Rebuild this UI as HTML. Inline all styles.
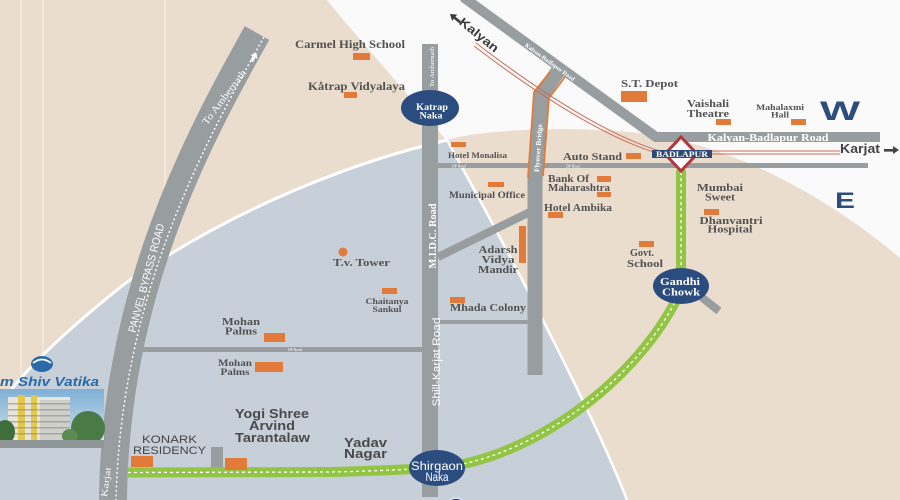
<!DOCTYPE html>
<html><head><meta charset="utf-8"><style>
html,body{margin:0;padding:0;width:900px;height:500px;overflow:hidden;background:#fafafa}
svg{display:block}
.s{font-family:"Liberation Serif",serif;font-weight:bold;fill:#525252}
.a{font-family:"Liberation Sans",sans-serif;font-weight:bold;fill:#4a4a4a}
.ws{font-family:"Liberation Serif",serif;font-weight:bold;fill:#fff}
.wa{font-family:"Liberation Sans",sans-serif;fill:#fff}
</style></head><body>
<svg width="900" height="500" viewBox="0 0 900 500" xmlns="http://www.w3.org/2000/svg">
<defs>
<linearGradient id="sky" x1="0" y1="0" x2="0" y2="1"><stop offset="0" stop-color="#7fb0d6"/><stop offset="1" stop-color="#dbe7ee"/></linearGradient>
</defs>
<rect width="900" height="500" fill="#fafafa"/>
<!-- west beige -->
<path d="M0,0 L327,0 C355,35 405,90 450,145 L450,170 L0,430 Z" fill="#eaddce"/>
<g stroke="#f3ebe1" stroke-width="1.5"><line x1="21" y1="0" x2="21" y2="400"/><line x1="43" y1="0" x2="43" y2="360"/><line x1="165" y1="0" x2="165" y2="258"/></g>
<!-- blue-gray region -->
<path d="M0,405 C20,375 60,335 127,282 C210,225 320,170 447,140 L600,140 L650,500 L0,500 Z" fill="#c7d0d9"/>
<path d="M0,405 C20,375 60,335 127,282 C210,225 320,170 447,140" fill="none" stroke="#fff" stroke-width="3"/>
<!-- east beige -->
<path d="M447,140 C480,130 560,126 630,132 C720,140 820,190 900,258 L900,500 L627,500 C600,430 530,290 447,140 Z" fill="#eaddce"/>
<path d="M627,500 C600,430 530,290 447,140" fill="none" stroke="#fff" stroke-width="2.5"/>

<!-- grey roads -->
<g fill="#989da0">
<rect x="422" y="44" width="16" height="453"/>
<rect x="438" y="163" width="430" height="5"/>
<rect x="438" y="320" width="92" height="4"/>
<rect x="142" y="347" width="288" height="5"/>
<rect x="211" y="447" width="12" height="23"/>
</g>
<g stroke="#989da0" fill="none">
<line x1="438" y1="257" x2="532" y2="211" stroke-width="8"/>
<line x1="695" y1="292" x2="719" y2="311" stroke-width="8"/>
<polyline points="562,66 541,95 535,180 535,375" stroke-width="15"/>
</g>
<g stroke="#e27a3a" fill="none" stroke-width="1.8">
<polyline points="550,72 534,92 528,178"/>
<polyline points="565,77 549,98 543,176"/>
</g>
<polyline points="463,-3 656,137 880,137" fill="none" stroke="#989da0" stroke-width="10"/>
<!-- panvel bypass -->
<path d="M257,33 C200,135 115,290 113,500" fill="none" stroke="#989da0" stroke-width="28"/>
<path d="M264,37 C207,139 121,292 116,500" fill="none" stroke="#fff" stroke-width="1.4" stroke-dasharray="2 2.5"/>
<g transform="translate(254,57) rotate(-62)" fill="#fff"><polygon points="5,0 0,-4 0,4"/><rect x="-5" y="-1.5" width="5" height="3"/></g>

<!-- railway -->
<g fill="none" stroke="#cc6b55" stroke-width="1">
<path d="M476,43 Q590,130 660,151 L840,151"/>
<path d="M474,46 Q588,133 660,154 L840,154"/>
</g>

<!-- green road -->
<path d="M128,472.5 L330,472 C380,471 410,469 437,468 C530,460 640,380 681,290 L681,170" fill="none" stroke="#93c544" stroke-width="10"/>
<path d="M128,472.5 L330,472 C380,471 410,469 437,468 C530,460 640,380 681,290 L681,170" fill="none" stroke="#fff" stroke-width="1.3" stroke-dasharray="3 3"/>

<!-- markers -->
<g fill="#e27a3a">
<rect x="353" y="53" width="17" height="7"/>
<rect x="344" y="92" width="13" height="6"/>
<rect x="451" y="142" width="15" height="5"/>
<rect x="488" y="182" width="16" height="5"/>
<rect x="597" y="176" width="14" height="6"/>
<rect x="597" y="192" width="14" height="5"/>
<rect x="548" y="212" width="15" height="6"/>
<rect x="626" y="153" width="15" height="6"/>
<rect x="621" y="91" width="26" height="11"/>
<rect x="716" y="119" width="15" height="6"/>
<rect x="791" y="119" width="15" height="6"/>
<rect x="704" y="209" width="15" height="6"/>
<rect x="639" y="241" width="15" height="6"/>
<rect x="519" y="226" width="7" height="37"/>
<rect x="450" y="297" width="15" height="6"/>
<rect x="382" y="288" width="15" height="6"/>
<circle cx="343" cy="252" r="4.5"/>
<rect x="264" y="333" width="21" height="9"/>
<rect x="255" y="362" width="28" height="10"/>
<rect x="131" y="456" width="22" height="11"/>
<rect x="225" y="458" width="22" height="12"/>
</g>

<!-- diamond station -->
<polygon points="681,137 697,154 681,171 665,154" fill="#fff" stroke="#b5363a" stroke-width="3"/>
<rect x="652" y="150" width="60" height="8" fill="#2e4a78"/>
<text class="ws" x="682" y="157" font-size="8" text-anchor="middle" textLength="52" lengthAdjust="spacingAndGlyphs">BADLAPUR</text>

<!-- circles -->
<g fill="#2b4c7e">
<ellipse cx="430" cy="108" rx="29" ry="18"/>
<ellipse cx="437" cy="468" rx="28" ry="18"/>
<ellipse cx="681" cy="286" rx="28" ry="18"/>
<ellipse cx="456" cy="508" rx="10" ry="10" stroke="#dfe6ee" stroke-width="1.5"/>
</g>
<text class="ws" x="432" y="110" font-size="9.5" text-anchor="middle" textLength="32" lengthAdjust="spacingAndGlyphs">Katrap</text>
<text class="ws" x="431" y="118.5" font-size="9.5" text-anchor="middle" textLength="23" lengthAdjust="spacingAndGlyphs">Naka</text>
<text class="wa" x="437" y="470" font-size="11.5" text-anchor="middle" textLength="52" lengthAdjust="spacingAndGlyphs">Shirgaon</text>
<text class="wa" x="437" y="481" font-size="11.5" text-anchor="middle" textLength="23" lengthAdjust="spacingAndGlyphs">Naka</text>
<text class="ws" x="680" y="285" font-size="11" text-anchor="middle" textLength="40" lengthAdjust="spacingAndGlyphs">Gandhi</text>
<text class="ws" x="681" y="295.5" font-size="11" text-anchor="middle" textLength="38" lengthAdjust="spacingAndGlyphs">Chowk</text>

<!-- road labels -->
<text class="wa" transform="translate(146,278) rotate(-75)" font-size="11" text-anchor="middle" dy="4" textLength="112" lengthAdjust="spacingAndGlyphs">PANVEL BYPASS ROAD</text>
<text class="ws" style="font-weight:normal" transform="translate(224,97) rotate(-53)" font-size="10" text-anchor="middle" dy="3.5" textLength="66" lengthAdjust="spacingAndGlyphs">To Ambernath</text>
<text class="ws" style="font-weight:normal" transform="translate(106,482) rotate(-82)" font-size="9" text-anchor="middle" dy="3" textLength="30" lengthAdjust="spacingAndGlyphs">Karjat</text>
<text class="ws" style="font-weight:normal" transform="translate(432,67) rotate(-90)" font-size="6" text-anchor="middle" dy="2" textLength="40" lengthAdjust="spacingAndGlyphs">To Ambernath</text>
<text class="ws" transform="translate(432,236) rotate(-90)" font-size="11" text-anchor="middle" dy="4" textLength="65" lengthAdjust="spacingAndGlyphs">M.I.D.C. Road</text>
<text class="wa" transform="translate(436,362) rotate(-90)" font-size="11" text-anchor="middle" dy="4" textLength="89" lengthAdjust="spacingAndGlyphs">Shill-Karjat Road</text>
<text class="ws" transform="translate(538,148) rotate(-86)" font-size="7" text-anchor="middle" dy="2.5" textLength="48" lengthAdjust="spacingAndGlyphs">Flyover Bridge</text>
<text class="ws" transform="translate(550,62) rotate(36)" font-size="6" text-anchor="middle" dy="2" textLength="60" lengthAdjust="spacingAndGlyphs">Kalyan-Badlapur Road</text>
<text class="ws" x="768" y="141" font-size="10.5" text-anchor="middle" textLength="121" lengthAdjust="spacingAndGlyphs">Kalyan-Badlapur Road</text>
<g class="ws" font-size="4.5" style="font-weight:normal">
<text x="452" y="167.5" textLength="14" lengthAdjust="spacingAndGlyphs">DP Road</text>
<text x="566" y="167.5" textLength="14" lengthAdjust="spacingAndGlyphs">DP Road</text>
<text x="288" y="351" textLength="14" lengthAdjust="spacingAndGlyphs">DP Road</text>
</g>

<!-- Kalyan / Karjat -->
<text class="a" transform="translate(479,35) rotate(39)" font-size="12" text-anchor="middle" dy="4" textLength="47" lengthAdjust="spacingAndGlyphs" style="fill:#3a3a3a">Kalyan</text>
<g transform="translate(450,14) rotate(219)" fill="#3a3a3a"><polygon points="0,0 -6,-4 -6,4"/><rect x="-13" y="-1.3" width="7" height="2.6"/></g>
<text class="a" x="840" y="153" font-size="13" textLength="40" lengthAdjust="spacingAndGlyphs" style="fill:#444">Karjat</text>
<polygon points="899,150 893,146 893,154" fill="#444"/><rect x="884" y="149" width="9" height="2.6" fill="#444"/>
<text x="820" y="120" font-family="Liberation Sans, sans-serif" font-weight="bold" font-size="27" fill="#2d4e7c" textLength="40" lengthAdjust="spacingAndGlyphs">W</text>
<text x="835" y="208" font-family="Liberation Sans, sans-serif" font-weight="bold" font-size="22" fill="#2d4e7c" textLength="20" lengthAdjust="spacingAndGlyphs">E</text>

<!-- serif labels -->
<text class="s" x="295" y="48" font-size="12" textLength="110" lengthAdjust="spacingAndGlyphs">Carmel High School</text>
<text class="s" x="308" y="90" font-size="12" textLength="97" lengthAdjust="spacingAndGlyphs">Kåtrap Vidyalaya</text>
<text class="s" x="448" y="158" font-size="8.5" textLength="59" lengthAdjust="spacingAndGlyphs">Hotel Monalisa</text>
<text class="s" x="449" y="198" font-size="9.5" textLength="76" lengthAdjust="spacingAndGlyphs">Municipal Office</text>
<text class="s" x="548" y="182" font-size="10" textLength="41" lengthAdjust="spacingAndGlyphs">Bank Of</text>
<text class="s" x="548" y="191" font-size="10" textLength="62" lengthAdjust="spacingAndGlyphs">Maharashtra</text>
<text class="s" x="544" y="211" font-size="10.5" textLength="68" lengthAdjust="spacingAndGlyphs">Hotel Ambika</text>
<text class="s" x="563" y="160" font-size="11" textLength="59" lengthAdjust="spacingAndGlyphs">Auto Stand</text>
<text class="s" x="621" y="87" font-size="11" textLength="57" lengthAdjust="spacingAndGlyphs">S.T. Depot</text>
<text class="s" x="708" y="107" font-size="10.5" text-anchor="middle" textLength="42" lengthAdjust="spacingAndGlyphs">Vaishali</text>
<text class="s" x="708" y="117" font-size="10.5" text-anchor="middle" textLength="42" lengthAdjust="spacingAndGlyphs">Theatre</text>
<text class="s" x="780" y="110" font-size="8.5" text-anchor="middle" textLength="48" lengthAdjust="spacingAndGlyphs">Mahalaxmi</text>
<text class="s" x="780" y="117.5" font-size="8.5" text-anchor="middle" textLength="18" lengthAdjust="spacingAndGlyphs">Hall</text>
<text class="s" x="720" y="191" font-size="11" text-anchor="middle" textLength="46" lengthAdjust="spacingAndGlyphs">Mumbai</text>
<text class="s" x="720" y="200.5" font-size="11" text-anchor="middle" textLength="30" lengthAdjust="spacingAndGlyphs">Sweet</text>
<text class="s" x="731" y="224" font-size="11" text-anchor="middle" textLength="63" lengthAdjust="spacingAndGlyphs">Dhanvantri</text>
<text class="s" x="730" y="232.5" font-size="11" text-anchor="middle" textLength="45" lengthAdjust="spacingAndGlyphs">Hospital</text>
<text class="s" x="642" y="256" font-size="10.5" text-anchor="middle" textLength="24" lengthAdjust="spacingAndGlyphs">Govt.</text>
<text class="s" x="645" y="267" font-size="10.5" text-anchor="middle" textLength="36" lengthAdjust="spacingAndGlyphs">School</text>
<text class="s" x="498" y="253" font-size="11" text-anchor="middle" textLength="39" lengthAdjust="spacingAndGlyphs">Adarsh</text>
<text class="s" x="498" y="263" font-size="11" text-anchor="middle" textLength="33" lengthAdjust="spacingAndGlyphs">Vidya</text>
<text class="s" x="498" y="273" font-size="11" text-anchor="middle" textLength="40" lengthAdjust="spacingAndGlyphs">Mandir</text>
<text class="s" x="333" y="266" font-size="10.5" textLength="57" lengthAdjust="spacingAndGlyphs">T.v. Tower</text>
<text class="s" x="387" y="304" font-size="8.5" text-anchor="middle" textLength="43" lengthAdjust="spacingAndGlyphs">Chaitanya</text>
<text class="s" x="387" y="312" font-size="8.5" text-anchor="middle" textLength="29" lengthAdjust="spacingAndGlyphs">Sankul</text>
<text class="s" x="450" y="311" font-size="11" textLength="76" lengthAdjust="spacingAndGlyphs">Mhada Colony</text>
<text class="s" x="241" y="325" font-size="11" text-anchor="middle" textLength="38" lengthAdjust="spacingAndGlyphs">Mohan</text>
<text class="s" x="241" y="334.5" font-size="11" text-anchor="middle" textLength="32" lengthAdjust="spacingAndGlyphs">Palms</text>
<text class="s" x="235" y="366" font-size="9.5" text-anchor="middle" textLength="34" lengthAdjust="spacingAndGlyphs">Mohan</text>
<text class="s" x="235" y="375" font-size="9.5" text-anchor="middle" textLength="29" lengthAdjust="spacingAndGlyphs">Palms</text>

<!-- sans labels -->
<text class="a" x="272" y="418" font-size="12.5" text-anchor="middle" textLength="74" lengthAdjust="spacingAndGlyphs">Yogi Shree</text>
<text class="a" x="272" y="430" font-size="12.5" text-anchor="middle" textLength="46" lengthAdjust="spacingAndGlyphs">Arvind</text>
<text class="a" x="272.5" y="442" font-size="12.5" text-anchor="middle" textLength="75" lengthAdjust="spacingAndGlyphs">Tarantalaw</text>
<text x="169.5" y="443" font-family="Liberation Sans, sans-serif" font-size="11" fill="#444" text-anchor="middle" textLength="55" lengthAdjust="spacingAndGlyphs">KONARK</text>
<text x="169.5" y="454" font-family="Liberation Sans, sans-serif" font-size="11" fill="#444" text-anchor="middle" textLength="73" lengthAdjust="spacingAndGlyphs">RESIDENCY</text>
<text class="a" x="344" y="447" font-size="12.5" textLength="43" lengthAdjust="spacingAndGlyphs">Yadav</text>
<text class="a" x="344" y="458" font-size="12.5" textLength="43" lengthAdjust="spacingAndGlyphs">Nagar</text>

<!-- project logo & photo -->
<ellipse cx="42" cy="364" rx="11" ry="8" fill="#2a6aa8"/>
<path d="M33,363 Q42,356 51,363" fill="none" stroke="#fff" stroke-width="1.6"/>
<text x="0" y="386" font-family="Liberation Sans, sans-serif" font-weight="bold" font-style="italic" font-size="13" fill="#2a6aa8" textLength="99" lengthAdjust="spacingAndGlyphs">m Shiv Vatika</text>
<rect x="0" y="389" width="104" height="59" fill="url(#sky)"/>
<rect x="8" y="397" width="62" height="43" fill="#e8e6dc"/>
<rect x="40" y="400" width="30" height="40" fill="#cfd0ca"/>
<rect x="18" y="395" width="7" height="45" fill="#e3c94a"/>
<rect x="31" y="395" width="6" height="45" fill="#e3c94a"/>
<g fill="#8a8a88" opacity="0.6">
<rect x="8" y="403" width="62" height="1.5"/><rect x="8" y="409" width="62" height="1.5"/><rect x="8" y="415" width="62" height="1.5"/><rect x="8" y="421" width="62" height="1.5"/><rect x="8" y="427" width="62" height="1.5"/><rect x="8" y="433" width="62" height="1.5"/>
</g>
<ellipse cx="5" cy="432" rx="10" ry="12" fill="#3f6e3a"/>
<ellipse cx="88" cy="428" rx="17" ry="17" fill="#4a7a45"/>
<ellipse cx="70" cy="436" rx="8" ry="7" fill="#5b8a50"/>
<rect x="0" y="440" width="104" height="8" fill="#8e9597"/>
</svg>
</body></html>
